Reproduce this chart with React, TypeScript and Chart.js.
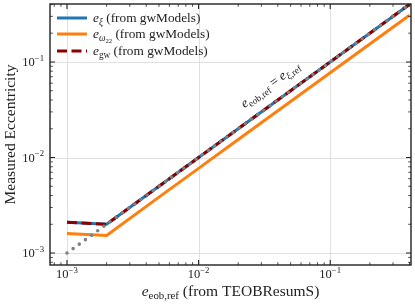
import React, { useEffect, useRef } from 'react';
import { Chart, registerables } from 'chart.js';

Chart.register(...registerables);

// ---- data ----
const eobRef = [0.001, 0.002, 0.005, 0.01, 0.02, 0.05, 0.1, 0.2, 0.4];
const eXi = [0.0021, 0.002, 0.005, 0.01, 0.02, 0.05, 0.1, 0.2, 0.4];
const eOmega22 = [0.0016, 0.00153, 0.00385, 0.0077, 0.0154, 0.0385, 0.077, 0.154, 0.308];
const eGw = [0.0021, 0.002, 0.005, 0.01, 0.02, 0.05, 0.1, 0.2, 0.4];
const identityX = [0.001, 0.4];
const identityY = [0.001, 0.4];

const xMajorTicks = [1e-3, 1e-2, 1e-1];
const xTickExponents = ['\u22123', '\u22122', '\u22121'];
const yMajorTicks = [1e-3, 1e-2, 1e-1];
const yTickExponents = ['\u22123', '\u22122', '\u22121'];

const xRange = [7.43e-4, 0.411];
const yRange = [7.5e-4, 0.404];

const legendLabels = [
  { sub: '\u03be', subItalic: true },
  { sub: '\u03c9', subItalic: true, sub2: '22' },
  { sub: 'gw', subItalic: false },
];
const annotationPos = { x: 0.0365, y: 0.0535 };

const SERIF = '"Liberation Serif", "DejaVu Serif", serif';

type Seg = { t: string; it?: boolean; sub?: boolean; sup?: boolean; subsub?: boolean };

function segSize(s: Seg, size: number) {
  if (s.subsub) return size * 0.5;
  return s.sub || s.sup ? size * 0.7 : size;
}
function setFont(ctx: CanvasRenderingContext2D, s: Seg, size: number) {
  ctx.font = `${s.it ? 'italic ' : ''}${segSize(s, size)}px ${SERIF}`;
}
function measureRich(ctx: CanvasRenderingContext2D, segs: Seg[], size: number) {
  let w = 0;
  for (const s of segs) {
    setFont(ctx, s, size);
    w += ctx.measureText(s.t).width;
  }
  return w;
}
function drawRich(
  ctx: CanvasRenderingContext2D,
  segs: Seg[],
  x: number,
  y: number,
  size: number,
  align: 'left' | 'center' | 'right'
) {
  const w = measureRich(ctx, segs, size);
  let cx = align === 'left' ? x : align === 'center' ? x - w / 2 : x - w;
  ctx.textAlign = 'left';
  ctx.textBaseline = 'alphabetic';
  for (const s of segs) {
    setFont(ctx, s, size);
    const dy = s.sub ? size * 0.22 : s.subsub ? size * 0.35 : s.sup ? -size * 0.42 : 0;
    ctx.fillText(s.t, cx, y + dy);
    cx += ctx.measureText(s.t).width;
  }
}

function minorValues(min: number, max: number) {
  const out: number[] = [];
  for (let d = Math.floor(Math.log10(min)); d <= Math.ceil(Math.log10(max)); d++) {
    for (let m = 2; m <= 9; m++) {
      const v = m * Math.pow(10, d);
      if (v >= min && v <= max) out.push(v);
    }
  }
  return out;
}

const decorPlugin = {
  id: 'decor',
  beforeDatasetsDraw(chart: any) {
    const { ctx, chartArea: a, scales } = chart;
    const xs = scales.x, ys = scales.y;
    ctx.save();
    ctx.strokeStyle = '#dddddd';
    ctx.lineWidth = 0.9;
    for (const v of xMajorTicks) {
      const px = Math.round(xs.getPixelForValue(v)) + 0.5;
      ctx.beginPath(); ctx.moveTo(px, a.top); ctx.lineTo(px, a.bottom); ctx.stroke();
    }
    for (const v of yMajorTicks) {
      const py = Math.round(ys.getPixelForValue(v)) + 0.5;
      ctx.beginPath(); ctx.moveTo(a.left, py); ctx.lineTo(a.right, py); ctx.stroke();
    }
    ctx.restore();
  },
  afterDatasetsDraw(chart: any) {
    const { ctx, chartArea: a, scales } = chart;
    const xs = scales.x, ys = scales.y;
    ctx.save();
    // frame
    ctx.strokeStyle = '#222222';
    ctx.lineWidth = 1.4;
    ctx.strokeRect(a.left, a.top, a.right - a.left, a.bottom - a.top);
    // ticks
    ctx.lineWidth = 1.1;
    const maj = 5, mn = 2.8;
    for (const v of xMajorTicks) {
      const px = xs.getPixelForValue(v);
      ctx.beginPath();
      ctx.moveTo(px, a.bottom); ctx.lineTo(px, a.bottom - maj);
      ctx.moveTo(px, a.top); ctx.lineTo(px, a.top + maj);
      ctx.stroke();
    }
    ctx.lineWidth = 0.8;
    for (const v of minorValues(xRange[0], xRange[1])) {
      const px = xs.getPixelForValue(v);
      ctx.beginPath();
      ctx.moveTo(px, a.bottom); ctx.lineTo(px, a.bottom - mn);
      ctx.moveTo(px, a.top); ctx.lineTo(px, a.top + mn);
      ctx.stroke();
    }
    ctx.lineWidth = 1.1;
    for (const v of yMajorTicks) {
      const py = ys.getPixelForValue(v);
      ctx.beginPath();
      ctx.moveTo(a.left, py); ctx.lineTo(a.left + maj, py);
      ctx.moveTo(a.right, py); ctx.lineTo(a.right - maj, py);
      ctx.stroke();
    }
    ctx.lineWidth = 0.8;
    for (const v of minorValues(yRange[0], yRange[1])) {
      const py = ys.getPixelForValue(v);
      ctx.beginPath();
      ctx.moveTo(a.left, py); ctx.lineTo(a.left + mn, py);
      ctx.moveTo(a.right, py); ctx.lineTo(a.right - mn, py);
      ctx.stroke();
    }
    // tick labels
    ctx.fillStyle = '#222222';
    const ts = 12.5;
    xMajorTicks.forEach((v, i) => {
      const px = xs.getPixelForValue(v);
      drawRich(ctx, [{ t: '10' }, { t: xTickExponents[i], sup: true }], px, a.bottom + 13, ts, 'center');
    });
    yMajorTicks.forEach((v, i) => {
      const py = ys.getPixelForValue(v);
      drawRich(ctx, [{ t: '10' }, { t: yTickExponents[i], sup: true }], a.left - 6, py + 4, ts, 'right');
    });
    // axis labels
    const ls = 15.5;
    drawRich(
      ctx,
      [{ t: 'e', it: true }, { t: 'eob,ref', sub: true }, { t: ' (from TEOBResumS)' }],
      (a.left + a.right) / 2,
      a.bottom + 31,
      ls,
      'center'
    );
    ctx.save();
    ctx.translate(15, (a.top + a.bottom) / 2);
    ctx.rotate(-Math.PI / 2);
    drawRich(ctx, [{ t: 'Measured Eccentricity' }], 0, 0, 15.5, 'center');
    ctx.restore();

    // annotation along identity line
    const ang = Math.atan2(
      ys.getPixelForValue(1e-1) - ys.getPixelForValue(1e-2),
      xs.getPixelForValue(1e-1) - xs.getPixelForValue(1e-2)
    );
    ctx.save();
    ctx.translate(xs.getPixelForValue(annotationPos.x), ys.getPixelForValue(annotationPos.y));
    ctx.rotate(ang);
    drawRich(
      ctx,
      [
        { t: 'e', it: true },
        { t: 'eob,ref', sub: true },
        { t: ' = ' },
        { t: 'e', it: true },
        { t: '\u03be', sub: true, it: true },
        { t: ',ref', sub: true },
      ],
      0,
      0,
      13.5,
      'center'
    );
    ctx.restore();

    // legend
    const ds = chart.data.datasets;
    const lx0 = a.left + 7, lx1 = a.left + 37, tx = a.left + 43;
    const rows = [a.top + 14, a.top + 30, a.top + 47];
    for (let i = 0; i < 3; i++) {
      const d = ds[i];
      ctx.save();
      ctx.strokeStyle = d.borderColor;
      ctx.lineWidth = d.borderWidth;
      ctx.setLineDash(d.borderDash || []);
      ctx.beginPath(); ctx.moveTo(lx0, rows[i]); ctx.lineTo(lx1, rows[i]); ctx.stroke();
      ctx.restore();
      const L = legendLabels[i];
      const segs: Seg[] = [{ t: 'e', it: true }, { t: L.sub, sub: true, it: L.subItalic }];
      if ((L as any).sub2) segs.push({ t: (L as any).sub2, subsub: true });
      segs.push({ t: ' (from gwModels)' });
      ctx.fillStyle = '#222222';
      drawRich(ctx, segs, tx, rows[i] + 4, 13.3, 'left');
    }
    ctx.restore();
  },
};

const mk = (xs: number[], ys: number[]) => xs.map((x, i) => ({ x, y: ys[i] }));

export default function App() {
  const ref = useRef<HTMLCanvasElement>(null);
  useEffect(() => {
    document.body.style.margin = '0';
    const canvas = ref.current!;
    const chart = new Chart(canvas, {
      type: 'scatter',
      data: {
        datasets: [
          { label: 'e_xi', data: mk(eobRef, eXi), borderColor: '#1f77b4', borderWidth: 3, showLine: true, pointRadius: 0, order: 3 } as any,
          { label: 'e_omega22', data: mk(eobRef, eOmega22), borderColor: '#ff7f0e', borderWidth: 3, showLine: true, pointRadius: 0, order: 2 } as any,
          { label: 'e_gw', data: mk(eobRef, eGw), borderColor: '#8b0000', borderWidth: 3, borderDash: [10, 4.5], showLine: true, pointRadius: 0, order: 1 } as any,
          { label: 'identity', data: mk(identityX, identityY), borderColor: '#808080', borderWidth: 3.6, borderDash: [0, 7.6], borderCapStyle: 'round', showLine: true, pointRadius: 0, order: 0 } as any,
        ],
      },
      options: {
        responsive: false,
        animation: false,
        devicePixelRatio: 1,
        layout: { padding: { left: 50, right: 4, top: 4, bottom: 40 } },
        scales: {
          x: { type: 'logarithmic', min: xRange[0], max: xRange[1], display: false },
          y: { type: 'logarithmic', min: yRange[0], max: yRange[1], display: false },
        },
        plugins: { legend: { display: false }, tooltip: { enabled: false } },
        events: [],
      },
      plugins: [decorPlugin],
    } as any);
    return () => chart.destroy();
  }, []);
  return <canvas ref={ref} width={415} height={305} style={{ display: 'block', width: 415, height: 305 }} />;
}
